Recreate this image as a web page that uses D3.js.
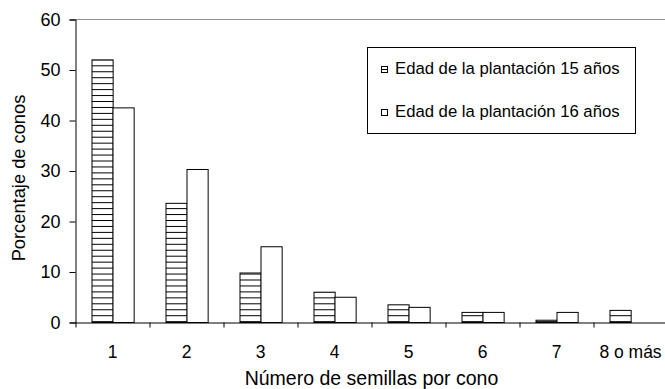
<!DOCTYPE html>
<html>
<head>
<meta charset="utf-8">
<script src="https://cdn.jsdelivr.net/npm/d3@7"></script>
<style>
  body { margin: 0; background: #fff; }
  svg { display: block; font-family: "Liberation Sans", Arial, sans-serif; }
</style>
</head>
<body>
<svg id="chart" width="665" height="389"></svg>
<script>
// Cone seed counts: share of cones (%) per number of seeds, two plantation ages
const categories = ["1", "2", "3", "4", "5", "6", "7", "8 o más"];
const seriesNames = ["Edad de la plantación 15 años", "Edad de la plantación 16 años"];
const edad15 = [52, 23.6, 9.8, 6.0, 3.5, 2.0, 0.45, 2.4];
const edad16 = [42.5, 30.3, 15.0, 5.0, 3.0, 2.0, 2.0, 0];
const yTicks = [0, 10, 20, 30, 40, 50, 60];

const svg = d3.select("#chart");
const plotLeft = 75.5, plotRight = 667.5, plotTop = 19.5, plotBottom = 322.5;

const x = d3.scaleBand().domain(categories).range([plotLeft, plotRight]).paddingInner(0).paddingOuter(0);
const xs = d3.scaleBand().domain([0, 1]).range([0, x.bandwidth()]).paddingInner(0).paddingOuter(0.75);
const xEdge = d3.scaleLinear().domain([0, categories.length]).range([plotLeft, plotRight]);
const y = d3.scaleLinear().domain([0, 60]).range([plotBottom, plotTop]);

// horizontal-line hatch for the younger plantation
const defs = svg.append("defs");
const pat = defs.append("pattern")
  .attr("id", "hatch")
  .attr("patternUnits", "userSpaceOnUse")
  .attr("x", 0).attr("y", 315.2)
  .attr("width", 8).attr("height", 5.95);
pat.append("rect").attr("width", 8).attr("height", 5.95).attr("fill", "#fff");
pat.append("rect").attr("y", 0).attr("width", 8).attr("height", 1).attr("fill", "#000");

// plot frame top edge
svg.append("line")
  .attr("x1", plotLeft).attr("x2", 665).attr("y1", plotTop).attr("y2", plotTop)
  .attr("stroke", "#8c8c8c").attr("stroke-width", 1);

// bars
const data = categories.map((c, i) => ({ cat: c, vals: [edad15[i], edad16[i]] }));
const fills = ["url(#hatch)", "#fff"];
const groups = svg.append("g").selectAll("g").data(data).join("g")
  .attr("transform", d => `translate(${x(d.cat)},0)`);
groups.selectAll("rect")
  .data(d => d.vals.map((v, k) => ({ v, k })).filter(e => e.v > 0))
  .join("rect")
  .attr("x", e => Math.round(xs(e.k)) + 0.5)
  .attr("width", xs.bandwidth())
  .attr("y", e => y(e.v))
  .attr("height", e => plotBottom - y(e.v))
  .attr("fill", e => fills[e.k])
  .attr("stroke", "#000")
  .attr("stroke-width", 1);

// y axis
const yAxis = svg.append("g")
  .attr("transform", `translate(${plotLeft},0)`)
  .call(d3.axisLeft(y).tickValues(yTicks).tickSize(6).tickPadding(9).tickFormat(d3.format("d")));
yAxis.select(".domain").attr("stroke", "#000");
yAxis.selectAll("text").attr("font-size", 18).attr("fill", "#000").attr("font-family", "Liberation Sans, Arial, sans-serif");

// x axis: ticks on category boundaries, labels centred in each category
const xAxis = svg.append("g")
  .attr("transform", `translate(0,${plotBottom})`)
  .call(d3.axisBottom(xEdge).tickValues(d3.range(0, categories.length + 1)).tickSize(5).tickFormat(""));
xAxis.select(".domain").attr("d", `M${plotLeft},0.5H665`).attr("stroke", "#000");

svg.append("g").selectAll("text").data(categories).join("text")
  .attr("x", d => x(d) + x.bandwidth() / 2)
  .attr("y", 358)
  .attr("text-anchor", "middle")
  .attr("font-size", 17.5)
  .attr("fill", "#000")
  .text(d => d);

// axis titles
svg.append("text")
  .attr("x", (plotLeft + plotRight) / 2)
  .attr("y", 384.5)
  .attr("text-anchor", "middle")
  .attr("font-size", 19.5)
  .text("Número de semillas por cono");

svg.append("text")
  .attr("transform", `translate(25,178) rotate(-90)`)
  .attr("text-anchor", "middle")
  .attr("font-size", 18.3)
  .text("Porcentaje de conos");

// legend
const lg = svg.append("g");
lg.append("rect")
  .attr("x", 367.5).attr("y", 47.5).attr("width", 268).attr("height", 86)
  .attr("fill", "#fff").attr("stroke", "#000");
const rows = [73.5, 116.5];
seriesNames.forEach((name, k) => {
  lg.append("rect")
    .attr("x", 381.5).attr("y", rows[k] - 7)
    .attr("width", 6).attr("height", 6)
    .attr("fill", "#fff").attr("stroke", "#000");
  if (k === 0) {
    lg.append("line")
      .attr("x1", 381.5).attr("x2", 387.5)
      .attr("y1", rows[k] - 4).attr("y2", rows[k] - 4)
      .attr("stroke", "#000");
  }
  lg.append("text")
    .attr("x", 395)
    .attr("y", rows[k])
    .attr("font-size", 16.7)
    .text(name);
});
</script>
</body>
</html>
